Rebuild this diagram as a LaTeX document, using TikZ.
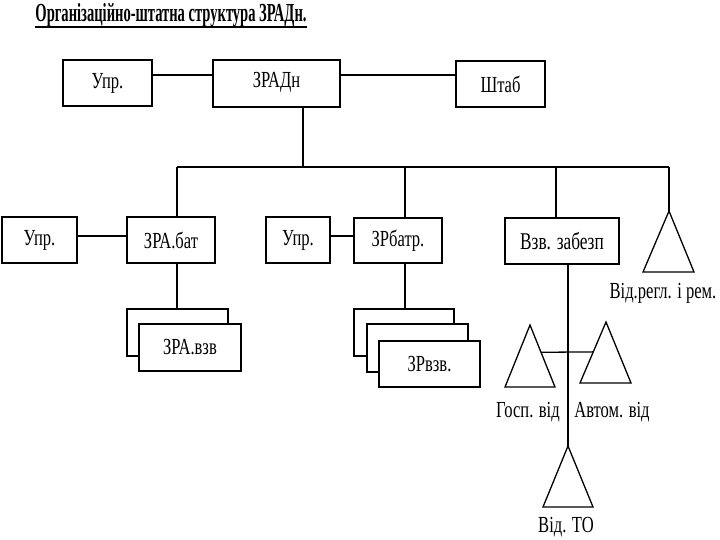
\documentclass[tikz,border=0pt]{standalone}
\usepackage{fontspec}
\setmainfont{Liberation Serif}[FakeStretch=0.72]
\newfontfamily\titlefont{Liberation Serif}[FakeStretch=0.56]
\usetikzlibrary{calc}
\tikzset{
  box/.style={draw, line width=1.3pt, fill=white, inner sep=0pt, font=\fontsize{23}{26}\selectfont},
  lbl/.style={inner sep=0pt, font=\fontsize{23}{26}\selectfont},
  ln/.style={line width=1.3pt},
  tri/.style={draw, line width=1.3pt, line join=miter}
}
\begin{document}
\begin{tikzpicture}[x=1pt,y=-1pt]
\useasboundingbox (0,0) rectangle (720,540);
% title
\node[anchor=base, inner sep=0pt, font=\titlefont\bfseries\fontsize{26}{28}\selectfont] (title) at (171,22) {Організаційно-штатна структура ЗРАДн.};
\draw[line width=2pt] ($(title.base west)+(0,5)$) -- ($(title.base east)+(0,5)$);
% top row
\node[box, minimum width=89, minimum height=46] (u1) at (107.5,83) {Упр.};
\node[box, minimum width=127, minimum height=47, text depth=7pt] (zr) at (276.5,83.5) {ЗРАДн};
\node[box, minimum width=89, minimum height=46] (sh) at (500.5,84) {Штаб};
\coordinate (h1) at (0,75);
\draw[ln] (u1.east |- h1) -- (zr.west |- h1);
\draw[ln] (zr.east |- h1) -- (sh.west |- h1);
% bus
\coordinate (b0) at (303,167);
\coordinate (b1) at (177,167);
\coordinate (b2) at (405,167);
\coordinate (b3) at (556,167);
\coordinate (b4) at (669,167);
\draw[ln] (zr.south -| b0) -- (b0);
\draw[ln] (b1) -- (b4);
% second row
\node[box, minimum width=75, minimum height=46] (u2) at (39.5,240) {Упр.};
\node[box, minimum width=88, minimum height=46] (zb) at (171,240) {ЗРА.бат};
\node[box, minimum width=64, minimum height=46] (u3) at (298,240) {Упр.};
\node[box, minimum width=88, minimum height=45] (zbt) at (398,240.5) {ЗРбатр.};
\node[box, minimum width=114, minimum height=46, font=\fontsize{24}{27}\selectfont] (vz) at (562,241) {Взв. забезп};
\coordinate (h2) at (0,236);
\draw[ln] (u2.east |- h2) -- (zb.west |- h2);
\draw[ln] (u3.east |- h2) -- (zbt.west |- h2);
\draw[ln] (b1) -- (zb.north -| b1);
\draw[ln] (b2) -- (zbt.north -| b2);
\draw[ln] (b3) -- (vz.north -| b3);
% right triangle
\coordinate (ra) at (669,211);
\coordinate (rl) at (643,272);
\coordinate (rr) at (694,272);
\draw[tri] (ra) -- (rl) -- (rr) -- cycle;
\draw[ln] (b4) -- (ra);
\node[lbl] (rlab) at (663,293) {Від.регл. і рем.};
% ZRA.vzv stack
\node[box, minimum width=101, minimum height=47] (s1a) at (177.5,332.5) {};
\node[box, minimum width=102, minimum height=47] (s1b) at (190,347.5) {ЗРА.взв};
\draw[ln] (zb.south -| b1) -- (s1a.north -| b1);
% ZRvzv stack
\node[box, minimum width=100, minimum height=47] (s2a) at (404,332.5) {};
\node[box, minimum width=101, minimum height=48] (s2b) at (417.5,348) {};
\node[box, minimum width=101, minimum height=46] (s2c) at (429.5,364) {ЗРвзв.};
\draw[ln] (zbt.south -| b2) -- (s2a.north -| b2);
% support triangles
\coordinate (ga) at (530,325);
\coordinate (gl) at (505,387);
\coordinate (gr) at (555,387);
\draw[tri] (ga) -- (gl) -- (gr) -- cycle;
\coordinate (aa) at (606,322);
\coordinate (al) at (580,383);
\coordinate (ar) at (631,383);
\draw[tri] (aa) -- (al) -- (ar) -- cycle;
\draw[ln] ($(ga)!0.44!(gr)$) -- ($(aa)!0.49!(al)$);
\node[lbl] (glab) at (528,412) {Госп. від};
\node[lbl] (alab) at (612,412) {Автом. від};
% TO triangle
\coordinate (ta) at (568,446);
\coordinate (tl) at (543,507);
\coordinate (tr) at (593,507);
\draw[tri] (ta) -- (tl) -- (tr) -- cycle;
\draw[ln] (vz.south -| ta) -- (ta);
\node[lbl] (tlab) at (566,527) {Від. ТО};
\end{tikzpicture}
\end{document}
